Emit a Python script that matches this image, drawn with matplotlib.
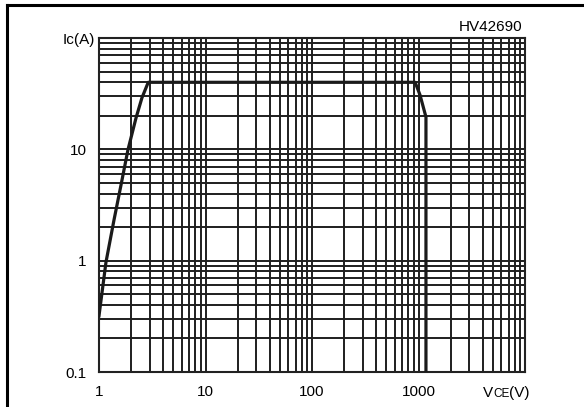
"""Safe operating area curve, Ic vs Vce on log-log grid.
"""
import matplotlib
matplotlib.use("Agg")
import matplotlib.pyplot as plt
from matplotlib.lines import Line2D

# curve
vce = [1.0, 1.163, 1.383, 1.61, 1.87, 2.225, 2.53, 2.9, 930, 1033, 1175, 1175]
ic = [0.32, 0.97, 2.32, 4.79, 9.9, 19.1, 29.0, 40, 40, 30.8, 19.5, 0.1]

x_ticks = [1, 10, 100, 1000]
x_labels = ["1", "10", "100", "1000"]
y_ticks = [0.1, 1, 10]
y_labels = ["0.1", "1", "10"]

plt.rcParams["font.family"] = ["Liberation Sans", "DejaVu Sans"]

W, H = 584, 407
fig = plt.figure(figsize=(W / 100, H / 100), dpi=100)
ax = fig.add_axes([99 / W, 1 - 372 / H, (525 - 99) / W, (372 - 38) / H])
ax.set_xscale("log")
ax.set_yscale("log")
ax.set_xlim(1, 10000)
ax.set_ylim(0.1, 100)

# full 1..9 grid in every decade
for dec in [1, 10, 100, 1000]:
    for k in range(1, 10):
        ax.axvline(k * dec, color="#1e1e1e", lw=1.4, zorder=1)
for dec in [0.1, 1, 10]:
    for k in range(1, 10):
        ax.axhline(k * dec, color="#1e1e1e", lw=1.4, zorder=1)

ax.plot(vce, ic, color="#1a1a1a", lw=2.3, zorder=3, solid_joinstyle="round")

ax.set_xticks(x_ticks)
ax.set_xticklabels(x_labels)
ax.set_yticks(y_ticks)
ax.set_yticklabels(y_labels)
ax.minorticks_off()
ax.tick_params(length=0, labelsize=11, pad=9)
for lbl in ax.get_xticklabels():
    lbl.set_horizontalalignment("center")
for s in ax.spines.values():
    s.set_linewidth(1.5)
    s.set_color("#222222")

fig.text(95 / W, 1 - 40 / H, "Ic(A)", ha="right", va="center", fontsize=11)
fig.text(522 / W, 1 - 27 / H, "HV42690", ha="right", va="center", fontsize=11)

# VCE(V) with small caps CE
fig.canvas.draw()
r = fig.canvas.get_renderer()
x0 = 483
yb = 1 - 397 / H
t = fig.text(x0 / W, yb, "V", ha="left", va="baseline", fontsize=11)
x0 = t.get_window_extent(r).x1
t = fig.text(x0 / W, yb, "CE", ha="left", va="baseline", fontsize=8.5)
x0 = t.get_window_extent(r).x1
fig.text(x0 / W, yb, "(V)", ha="left", va="baseline", fontsize=11)

# frame lines of the datasheet box
fig.add_artist(Line2D([7 / W, 1], [1 - 5 / H, 1 - 5 / H], color="black", lw=2.2))
fig.add_artist(Line2D([7 / W, 7 / W], [0, 1 - 5 / H], color="black", lw=2.2))

fig.savefig("out.png", dpi=100)
